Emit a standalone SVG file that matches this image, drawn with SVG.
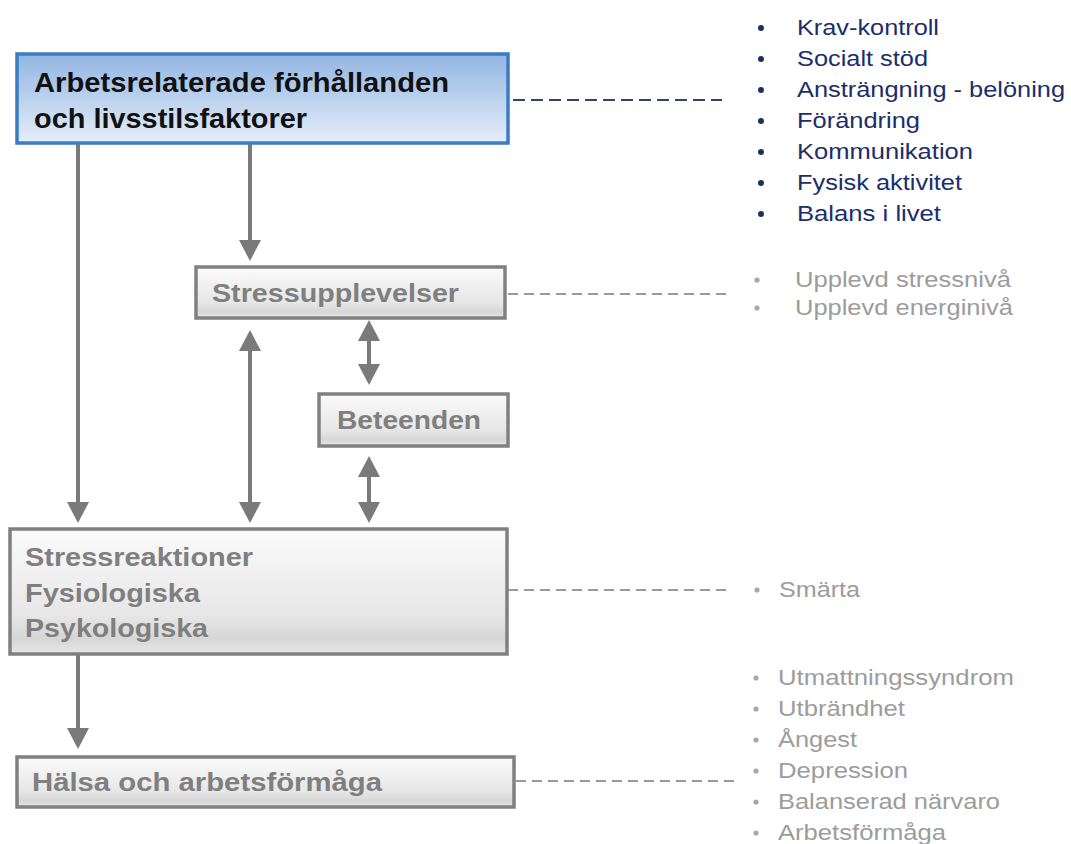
<svg xmlns="http://www.w3.org/2000/svg" width="1071" height="844" viewBox="0 0 1071 844">
<style>
.bold{font-family:"Liberation Sans",Arial,sans-serif;font-weight:bold;}
.reg{font-family:"Liberation Sans",Arial,sans-serif;}
.tk{fill:#111;font-size:27px;}
.tg{fill:#7f7f7f;font-size:26px;}
.ln{fill:#1c2d6b;font-size:22.5px;}
.lg{fill:#9c9c9c;font-size:22.5px;}
.gbox{fill:url(#gg);stroke:#808080;stroke-width:3.5;}
.con{stroke:#7a7a7a;stroke-width:4;fill:none;}
.dg{stroke:#9a9a9a;stroke-width:1.8;stroke-dasharray:10 6;fill:none;}
.db{stroke:#2f4377;stroke-width:1.8;stroke-dasharray:12 6;fill:none;}
</style>
<defs>
<linearGradient id="gb" x1="0" y1="0" x2="0" y2="1">
<stop offset="0" stop-color="#91b5e3"/>
<stop offset="1" stop-color="#e6eef9"/>
</linearGradient>
<linearGradient id="gg" x1="0" y1="0" x2="0" y2="1">
<stop offset="0" stop-color="#fbfbfb"/>
<stop offset="0.7" stop-color="#e6e6e6"/>
<stop offset="0.88" stop-color="#d6d6d6"/>
<stop offset="1" stop-color="#e8e8e8"/>
</linearGradient>
<marker id="ah" markerUnits="userSpaceOnUse" markerWidth="22" markerHeight="22" viewBox="0 0 22 22" refX="17" refY="11" orient="auto-start-reverse">
<path d="M0,0 L21,11 L0,22 z" fill="#7a7a7a"/>
</marker>
</defs>
<rect width="1071" height="844" fill="#ffffff"/>

<g id="connectors">
<path class="con" d="M78,143 V519" marker-end="url(#ah)"/>
<path class="con" d="M250,143 V257" marker-end="url(#ah)"/>
<path class="con" d="M250,334 V519" marker-start="url(#ah)" marker-end="url(#ah)"/>
<path class="con" d="M369,324 V381" marker-start="url(#ah)" marker-end="url(#ah)"/>
<path class="con" d="M369,460 V519" marker-start="url(#ah)" marker-end="url(#ah)"/>
<path class="con" d="M78,654 V745" marker-end="url(#ah)"/>
<path class="db" d="M513,100 H722"/>
<path class="dg" d="M508,294 H728"/>
<path class="dg" d="M508,590 H728"/>
<path class="dg" d="M516,781 H735"/>
</g>

<g id="node-arbets">
<rect x="17" y="54" width="491" height="89" fill="url(#gb)" stroke="#3b7cc2" stroke-width="3.5"/>
<text class="bold tk" x="34" y="92" textLength="415" lengthAdjust="spacingAndGlyphs">Arbetsrelaterade förhållanden</text>
<text class="bold tk" x="34" y="128" textLength="273" lengthAdjust="spacingAndGlyphs">och livsstilsfaktorer</text>
</g>

<g id="node-stressupplevelser">
<rect class="gbox" x="196" y="267" width="309" height="51"/>
<text class="bold tg" x="212" y="302" textLength="247" lengthAdjust="spacingAndGlyphs">Stressupplevelser</text>
</g>

<g id="node-beteenden">
<rect class="gbox" x="319" y="394" width="189" height="52"/>
<text class="bold tg" x="337" y="429" textLength="144" lengthAdjust="spacingAndGlyphs">Beteenden</text>
</g>

<g id="node-stressreaktioner">
<rect class="gbox" x="10" y="529" width="497" height="125"/>
<text class="bold tg" x="25" y="566" textLength="228" lengthAdjust="spacingAndGlyphs">Stressreaktioner</text>
<text class="bold tg" x="25" y="602" textLength="175" lengthAdjust="spacingAndGlyphs">Fysiologiska</text>
<text class="bold tg" x="25" y="637" textLength="183" lengthAdjust="spacingAndGlyphs">Psykologiska</text>
</g>

<g id="node-halsa">
<rect class="gbox" x="17" y="757" width="497" height="50"/>
<text class="bold tg" x="32" y="791" textLength="350" lengthAdjust="spacingAndGlyphs">Hälsa och arbetsförmåga</text>
</g>

<g id="list-faktorer">
<g fill="#1c2d6b">
<circle cx="761" cy="28" r="3"/>
<circle cx="761" cy="59" r="3"/>
<circle cx="761" cy="90" r="3"/>
<circle cx="761" cy="121" r="3"/>
<circle cx="761" cy="152" r="3"/>
<circle cx="761" cy="183" r="3"/>
<circle cx="761" cy="214" r="3"/>
</g>
<text class="reg ln" x="797" y="35" textLength="142" lengthAdjust="spacingAndGlyphs">Krav-kontroll</text>
<text class="reg ln" x="797" y="66" textLength="131" lengthAdjust="spacingAndGlyphs">Socialt stöd</text>
<text class="reg ln" x="797" y="97" textLength="268" lengthAdjust="spacingAndGlyphs">Ansträngning - belöning</text>
<text class="reg ln" x="797" y="128" textLength="123" lengthAdjust="spacingAndGlyphs">Förändring</text>
<text class="reg ln" x="797" y="159" textLength="176" lengthAdjust="spacingAndGlyphs">Kommunikation</text>
<text class="reg ln" x="797" y="190" textLength="165" lengthAdjust="spacingAndGlyphs">Fysisk aktivitet</text>
<text class="reg ln" x="797" y="221" textLength="144" lengthAdjust="spacingAndGlyphs">Balans i livet</text>
</g>

<g id="list-upplevelser">
<g fill="#a8a8a8">
<circle cx="757" cy="280" r="2.6"/>
<circle cx="757" cy="308" r="2.6"/>
</g>
<text class="reg lg" x="795" y="287" textLength="216" lengthAdjust="spacingAndGlyphs">Upplevd stressnivå</text>
<text class="reg lg" x="795" y="315" textLength="218" lengthAdjust="spacingAndGlyphs">Upplevd energinivå</text>
</g>

<g id="list-reaktioner">
<circle cx="757" cy="590" r="2.6" fill="#a8a8a8"/>
<text class="reg lg" x="779" y="597" textLength="81" lengthAdjust="spacingAndGlyphs">Smärta</text>
</g>

<g id="list-halsa">
<g fill="#a8a8a8">
<circle cx="756" cy="678" r="2.6"/>
<circle cx="756" cy="709" r="2.6"/>
<circle cx="756" cy="740" r="2.6"/>
<circle cx="756" cy="771" r="2.6"/>
<circle cx="756" cy="802" r="2.6"/>
<circle cx="756" cy="833" r="2.6"/>
</g>
<text class="reg lg" x="778" y="685" textLength="236" lengthAdjust="spacingAndGlyphs">Utmattningssyndrom</text>
<text class="reg lg" x="778" y="716" textLength="127" lengthAdjust="spacingAndGlyphs">Utbrändhet</text>
<text class="reg lg" x="778" y="747" textLength="79" lengthAdjust="spacingAndGlyphs">Ångest</text>
<text class="reg lg" x="778" y="778" textLength="130" lengthAdjust="spacingAndGlyphs">Depression</text>
<text class="reg lg" x="778" y="809" textLength="222" lengthAdjust="spacingAndGlyphs">Balanserad närvaro</text>
<text class="reg lg" x="778" y="840" textLength="168" lengthAdjust="spacingAndGlyphs">Arbetsförmåga</text>
</g>
</svg>
